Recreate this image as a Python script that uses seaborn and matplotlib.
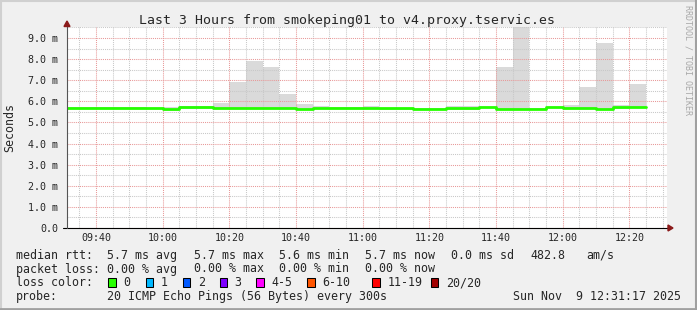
import numpy as np
import pandas as pd
import matplotlib
matplotlib.use("Agg")
import matplotlib.pyplot as plt
import seaborn as sns
from matplotlib.patches import Rectangle, Polygon
from matplotlib.lines import Line2D
from matplotlib.ticker import MultipleLocator, FixedLocator, FuncFormatter

# ---------------- data ----------------
title = "Last 3 Hours from smokeping01 to v4.proxy.tservic.es"
bin_times = ["09:30", "09:35", "09:40", "09:45", "09:50", "09:55",
             "10:00", "10:05", "10:10", "10:15", "10:20", "10:25",
             "10:30", "10:35", "10:40", "10:45", "10:50", "10:55",
             "11:00", "11:05", "11:10", "11:15", "11:20", "11:25",
             "11:30", "11:35", "11:40", "11:45", "11:50", "11:55",
             "12:00", "12:05", "12:10", "12:15", "12:20"]
median_ms = [5.68, 5.68, 5.68, 5.68, 5.68, 5.68,
             5.65, 5.71, 5.71, 5.70, 5.70, 5.70,
             5.70, 5.70, 5.65, 5.70, 5.69, 5.69,
             5.69, 5.68, 5.68, 5.64, 5.64, 5.67,
             5.67, 5.72, 5.65, 5.65, 5.65, 5.71,
             5.68, 5.68, 5.64, 5.71, 5.72]
smoke_low_ms = [5.62, 5.62, 5.62, 5.62, 5.62, 5.62,
                5.56, 5.64, 5.64, 5.64, 5.64, 5.64,
                5.64, 5.64, 5.60, 5.64, 5.63, 5.63,
                5.63, 5.61, 5.61, 5.60, 5.60, 5.60,
                5.60, 5.66, 5.60, 5.60, 5.65, 5.66,
                5.62, 5.62, 5.60, 5.64, 5.66]
smoke_high_ms = [5.72, 5.72, 5.72, 5.72, 5.72, 5.70,
                 5.75, 5.76, 5.78, 5.94, 6.93, 7.93,
                 7.63, 6.35, 5.88, 5.78, 5.72, 5.71,
                 5.80, 5.70, 5.70, 5.68, 5.68, 5.80,
                 5.80, 5.74, 7.63, 9.80, 5.66, 5.73,
                 5.83, 6.68, 8.78, 5.83, 6.84]
window_start = "09:31:17"
window_end = "12:31:17"
step_minutes = 5
x_tick_labels = ["09:40", "10:00", "10:20", "10:40", "11:00",
                 "11:20", "11:40", "12:00", "12:20"]
y_tick_values = [0, 1, 2, 3, 4, 5, 6, 7, 8, 9]

rtt_stat_names = ["avg", "max", "min", "now"]
rtt_stat_values = [5.7, 5.7, 5.6, 5.7]
rtt_sd = 0.0
am_per_s = 482.8
loss_stat_values = [0.00, 0.00, 0.00, 0.00]
loss_labels = ["0", "1", "2", "3", "4-5", "6-10", "11-19", "20/20"]
loss_colors = ["#26ff00", "#00b8ff", "#0059ff", "#7e00ff",
               "#ff00ff", "#ff5500", "#ff0000", "#a10000"]
probe_text = "20 ICMP Echo Pings (56 Bytes) every 300s"
timestamp = "Sun Nov  9 12:31:17 2025"

# ---------------- layout ----------------
W, H = 697, 310
stat_x = [107.3, 194.0, 279.3, 365.3]
loss_box_x = [108.3, 145.7, 182.7, 219.7, 256.3, 307.0, 372.3, 430.7]
row_base = [258.7, 272.5, 286.3, 300.0]
MONO = "DejaVu Sans Mono"


def to_min(s):
    p = [int(v) for v in s.split(":")]
    m = p[0] * 60 + p[1]
    if len(p) > 2:
        m += p[2] / 60.0
    return m


def fx(x):
    return x / W


def fy(y):
    return 1 - y / H


sns.set_style("white")
plt.rcParams["font.family"] = [MONO, "DejaVu Sans"]

fig = plt.figure(figsize=(W / 100, H / 100), dpi=100, facecolor="#f0f0f0")
ax = fig.add_axes([fx(67), fy(228), 600 / W, 201 / H])
ax.set_facecolor("white")

df = pd.DataFrame({
    "start": [to_min(t) for t in bin_times],
    "median": median_ms,
    "low": smoke_low_ms,
    "high": smoke_high_ms,
})

# smoke
ax.bar(df["start"], df["high"] - df["low"], bottom=df["low"],
       width=step_minutes, align="edge", color="#dadada",
       linewidth=0, zorder=1)

# median line (step)
edges = list(df["start"]) + [df["start"].iloc[-1] + step_minutes]
yvals = list(df["median"]) + [df["median"].iloc[-1]]
line_df = pd.DataFrame({"t": edges, "ms": yvals})
sns.lineplot(data=line_df, x="t", y="ms", drawstyle="steps-post",
             color=loss_colors[0], lw=2.0, ax=ax, estimator=None,
             legend=False, zorder=3)

ax.set_xlim(to_min(window_start), to_min(window_end))
ax.set_ylim(0, 9.52)

# ticks & grid
xt = [to_min(t) for t in x_tick_labels]
ax.xaxis.set_major_locator(FixedLocator(xt))
ax.set_xticklabels(x_tick_labels)
ax.xaxis.set_minor_locator(MultipleLocator(5))
ax.yaxis.set_major_locator(FixedLocator(y_tick_values))
ax.yaxis.set_minor_locator(MultipleLocator(0.5))
ax.yaxis.set_major_formatter(FuncFormatter(
    lambda v, p: "0.0" if abs(v) < 1e-9 else f"{v:.1f} m"))

ax.set_axisbelow("line")
dot = (0, (1, 1))
ax.grid(which="major", color="#e89898", linestyle=dot, linewidth=0.75)
ax.grid(which="minor", color="#c8c8c8", linestyle=dot, linewidth=0.75)

ax.tick_params(axis="x", which="major", length=2, width=0.75,
               color="#e08080", labelsize=7.2, pad=1.5, direction="out")
ax.tick_params(axis="x", which="minor", length=1.5, width=0.75,
               color="#bbbbbb", direction="out")
ax.tick_params(axis="y", which="major", length=2.5, width=0.75,
               color="#888888", labelsize=7.2, pad=4, direction="out")
ax.tick_params(axis="y", which="minor", length=1.5, width=0.75,
               color="#bbbbbb", direction="out")
ax.set_xlabel("")
ax.set_ylabel("")
for s in ax.spines.values():
    s.set_visible(False)

# axis lines and arrows
fig.add_artist(Line2D([fx(63), fx(670)], [fy(228), fy(228)],
                      color="black", lw=0.8, zorder=5))
fig.add_artist(Line2D([fx(67), fx(67)], [fy(228), fy(24)],
                      color="#555555", lw=0.8, zorder=5))
fig.add_artist(Polygon([(fx(668), fy(225)), (fx(673), fy(228)),
                        (fx(668), fy(231))], closed=True,
                       color="#8b1a1a", zorder=6))
fig.add_artist(Polygon([(fx(64), fy(26.5)), (fx(67), fy(21)),
                        (fx(70), fy(26.5))], closed=True,
                       color="#8b1a1a", zorder=6))

# texts
fig.text(fx(347), fy(24), title, ha="center", va="baseline", fontsize=9.5)
fig.text(fx(10), fy(127), "Seconds", rotation=90, ha="center",
         va="center", fontsize=8.4)
fig.text(fx(688), fy(5), "RRDTOOL / TOBI OETIKER", rotation=270,
         ha="center", va="top", fontsize=6, color="#a8a8a8")

fs = 8.4
fig.text(fx(16), fy(row_base[0]), "median rtt:", fontsize=fs, va="baseline")
for x, n, v in zip(stat_x, rtt_stat_names, rtt_stat_values):
    fig.text(fx(x), fy(row_base[0]), f"{v:.1f} ms {n}", fontsize=fs,
             va="baseline")
fig.text(fx(451), fy(row_base[0]), f"{rtt_sd:.1f} ms sd", fontsize=fs,
         va="baseline")
fig.text(fx(530), fy(row_base[0]), f"{am_per_s:.1f}", fontsize=fs,
         va="baseline")
fig.text(fx(586), fy(row_base[0]), "am/s", fontsize=fs, va="baseline")

fig.text(fx(16), fy(row_base[1]), "packet loss:", fontsize=fs, va="baseline")
for x, n, v in zip(stat_x, rtt_stat_names, loss_stat_values):
    fig.text(fx(x), fy(row_base[1]), f"{v:.2f} % {n}", fontsize=fs,
             va="baseline")

fig.text(fx(16), fy(row_base[2]), "loss color:", fontsize=fs, va="baseline")
for x, lab, c in zip(loss_box_x, loss_labels, loss_colors):
    fig.add_artist(Rectangle((fx(x), fy(286.5)), 7.7 / W, 8.2 / H,
                             facecolor=c, edgecolor="black", lw=0.75))
    fig.text(fx(x + 15), fy(row_base[2]), lab, fontsize=fs, va="baseline")

fig.text(fx(16), fy(row_base[3]), "probe:", fontsize=fs, va="baseline")
fig.text(fx(107.3), fy(row_base[3]), probe_text, fontsize=fs, va="baseline")
fig.text(fx(681), fy(row_base[3]), timestamp, fontsize=fs, va="baseline",
         ha="right")

# frame shading
fig.add_artist(Line2D([fx(0.5), fx(0.5)], [fy(0), fy(310)], color="#d0d0d0", lw=1.5))
fig.add_artist(Line2D([fx(0), fx(697)], [fy(0.5), fy(0.5)], color="#d0d0d0", lw=1.5))
fig.add_artist(Line2D([fx(696), fx(696)], [fy(0), fy(310)], color="#a0a0a0", lw=1.5))
fig.add_artist(Line2D([fx(0), fx(697)], [fy(309), fy(309)], color="#a0a0a0", lw=2))

fig.savefig("out.png", dpi=100, facecolor=fig.get_facecolor())
